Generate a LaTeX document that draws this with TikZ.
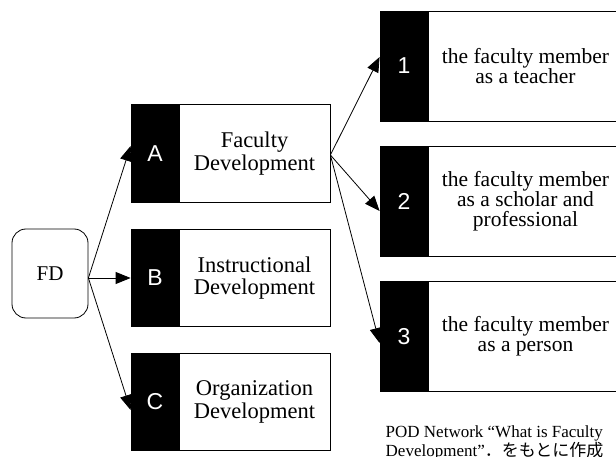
\documentclass[tikz,border=0pt]{standalone}
\usepackage{fontspec}
\setmainfont{Liberation Serif}
\newfontfamily\tagfont{Liberation Sans}
\newfontfamily\cjkfont{Noto Sans CJK JP}
\usetikzlibrary{arrows.meta,calc}

\begin{document}
\begin{tikzpicture}[x=1pt,y=-1pt,
  tagbox/.style={draw=black, fill=black, line width=0.8pt, minimum width=48pt,
    inner sep=0pt, text=white, font=\tagfont\fontsize{23}{23}\selectfont},
  smalltag/.style={tagbox, minimum height=97.5pt},
  bigtag/.style={tagbox, minimum height=110pt},
  leftbox/.style={draw=black, fill=white, line width=0.8pt, minimum width=151pt,
    minimum height=97.5pt, inner sep=0pt, align=center,
    font=\fontsize{22.5}{22.7}\selectfont},
  rightbox/.style={draw=black, fill=white, line width=0.8pt, minimum width=195pt,
    minimum height=110pt, inner sep=0pt, align=center,
    font=\fontsize{21.5}{20}\selectfont},
  rootbox/.style={draw=black, fill=white, line width=0.8pt, rounded corners=14pt,
    minimum width=76pt, minimum height=89pt, inner sep=0pt,
    font=\fontsize{21}{21}\selectfont},
  note/.style={inner sep=0pt, anchor=north west, align=left,
    font=\fontsize{17}{15.5}\selectfont},
  link/.style={line width=0.8pt, -{Triangle[length=15pt,width=12pt]}}
]
\useasboundingbox (0,0) rectangle (616,457);

% root
\node[rootbox] (fd) at (50,273.5) {FD};

% first level
\node[smalltag] (ta) at (155,153.5) {A};
\node[leftbox]  (da) at (254.5,153.5) {Faculty\\Development};
\node[smalltag] (tb) at (155,278) {B};
\node[leftbox]  (db) at (254.5,278) {Instructional\\Development};
\node[smalltag] (tc) at (155,402) {C};
\node[leftbox]  (dc) at (254.5,402) {Organization\\Development};

% second level
\node[bigtag]   (t1) at (404,66) {1};
\node[rightbox] (d1) at (525.5,66) {the faculty member\\as a teacher};
\node[bigtag]   (t2) at (404,201) {2};
\node[rightbox] (d2) at (525.5,201) {the faculty member\\as a scholar and\\professional};
\node[bigtag]   (t3) at (404,336.5) {3};
\node[rightbox] (d3) at (525.5,336.5) {the faculty member\\as a person};

% connectors
\coordinate (fdout) at ($(fd.east)+(0,4.5)$);
\draw[link] (fdout) -- ($(ta.west)+(0,-7.5)$);
\draw[link] (fdout) -- (tb.west);
\draw[link] (fdout) -- ($(tc.west)+(0,8)$);

\coordinate (daout) at ($(da.east)+(0,1.5)$);
\draw[link] (daout) -- ($(t1.west)+(0,-9)$);
\draw[link] (daout) -- ($(t2.west)+(0,10)$);
\draw[link] (daout) -- ($(t3.west)+(0,6.5)$);

% source note
\node[note] (note) at (385.5,425.4)
  {POD Network “What is Faculty\\Development”{\cjkfont ．をもとに作成}};
\end{tikzpicture}
\end{document}
